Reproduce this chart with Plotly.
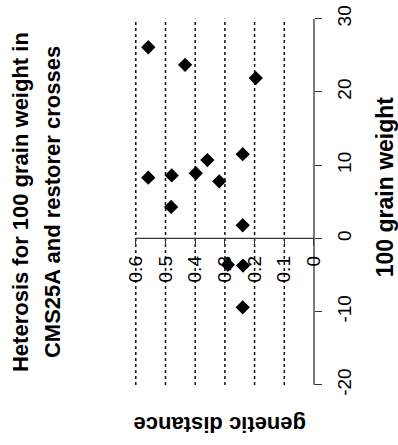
import plotly.graph_objects as go

# Heterosis for 100 grain weight vs genetic distance (CMS25A x restorer crosses)
genetic_distance = [0.558, 0.434, 0.196, 0.240, 0.359, 0.558, 0.479, 0.398,
                    0.319, 0.481, 0.240, 0.290, 0.239, 0.240]
grain_weight = [26.1, 23.7, 21.9, 11.5, 10.7, 8.3, 8.6, 8.9,
                7.8, 4.3, 1.8, -3.6, -3.7, -9.4]

gd_ticks = [0, 0.1, 0.2, 0.3, 0.4, 0.5, 0.6]
gd_labels = ["0", "0.1", "0.2", "0.3", "0.4", "0.5", "0.6"]
gw_ticks = [-20, -10, 0, 10, 20, 30]
gw_labels = ["-20", "-10", "0", "10", "20", "30"]

W, H = 398, 445
ML, MR, MT, MB = 120, 68, 5, 50
PW, PH = W - ML - MR, H - MT - MB

x_range = [0.6532, -0.0539]   # genetic distance runs right-to-left
y_range = [-21.37, 31.05]

AX = "#333333"
FONT = "Liberation Sans, Arial, Helvetica, sans-serif"


def px_to_paper(px, py):
    return (px - ML) / PW, (H - MB - py) / PH


fig = go.Figure()

# dashed reference lines at each genetic-distance tick
for g in gd_ticks[1:]:
    fig.add_trace(go.Scatter(
        x=[g, g], y=[min(gw_ticks), max(gw_ticks)], mode="lines",
        line=dict(color="#111111", width=1.5, dash="3px,3px"),
        hoverinfo="skip", showlegend=False))

# axis lines restricted to the tick span
fig.add_trace(go.Scatter(
    x=[max(gd_ticks), min(gd_ticks)], y=[0, 0], mode="lines",
    line=dict(color=AX, width=1.3), hoverinfo="skip", showlegend=False))
fig.add_trace(go.Scatter(
    x=[0, 0], y=[min(gw_ticks), max(gw_ticks)], mode="lines",
    line=dict(color=AX, width=1.3), hoverinfo="skip", showlegend=False))

# crosses
fig.add_trace(go.Scatter(
    x=genetic_distance, y=grain_weight, mode="markers",
    marker=dict(symbol="diamond", size=11, color="black"),
    showlegend=False))

x_pos = (0 - y_range[0]) / (y_range[1] - y_range[0])
y_pos = (x_range[0] - 0) / (x_range[0] - x_range[1])

fig.update_layout(
    width=W, height=H,
    margin=dict(l=ML, r=MR, t=MT, b=MB),
    plot_bgcolor="white", paper_bgcolor="white",
    font=dict(family=FONT, color="black"),
    xaxis=dict(range=x_range, anchor="free", position=x_pos,
               tickvals=gd_ticks, ticktext=gd_labels, tickangle=-90,
               ticks="outside", ticklen=7, tickcolor=AX, tickwidth=1.3,
               ticklabelstandoff=2, ticklabeloverflow="allow",
               tickfont=dict(size=19, color="black"),
               showline=False, showgrid=False, zeroline=False),
    yaxis=dict(range=y_range, anchor="free", position=y_pos, side="right",
               tickvals=gw_ticks, ticktext=gw_labels, tickangle=-90,
               ticks="outside", ticklen=7, tickcolor=AX, tickwidth=1.3,
               ticklabelstandoff=6, ticklabeloverflow="allow",
               tickfont=dict(size=19, color="black"),
               showline=False, showgrid=False, zeroline=False),
)

title_font = dict(family=FONT, size=22, color="black")
for (px, py), txt in [((20, 199), "<b>Heterosis for 100 grain weight in</b>"),
                      ((52, 199), "<b>CMS25A and restorer crosses</b>")]:
    ax_, ay_ = px_to_paper(px, py)
    fig.add_annotation(x=ax_, y=ay_, xref="paper", yref="paper", text=txt,
                       textangle=-90, showarrow=False, font=title_font,
                       xanchor="center", yanchor="middle")

ax_, ay_ = px_to_paper(385, 184)
fig.add_annotation(x=ax_, y=ay_, xref="paper", yref="paper",
                   text="<b>100 grain weight</b>", textangle=-90,
                   showarrow=False, font=dict(family=FONT, size=23, color="black"),
                   xanchor="center", yanchor="middle")

ax_, ay_ = px_to_paper(220, 425)
fig.add_annotation(x=ax_, y=ay_, xref="paper", yref="paper",
                   text="<b>genetic distance</b>", textangle=180,
                   showarrow=False, font=dict(family=FONT, size=22, color="black"),
                   xanchor="center", yanchor="middle")

fig.write_html("out.html")
